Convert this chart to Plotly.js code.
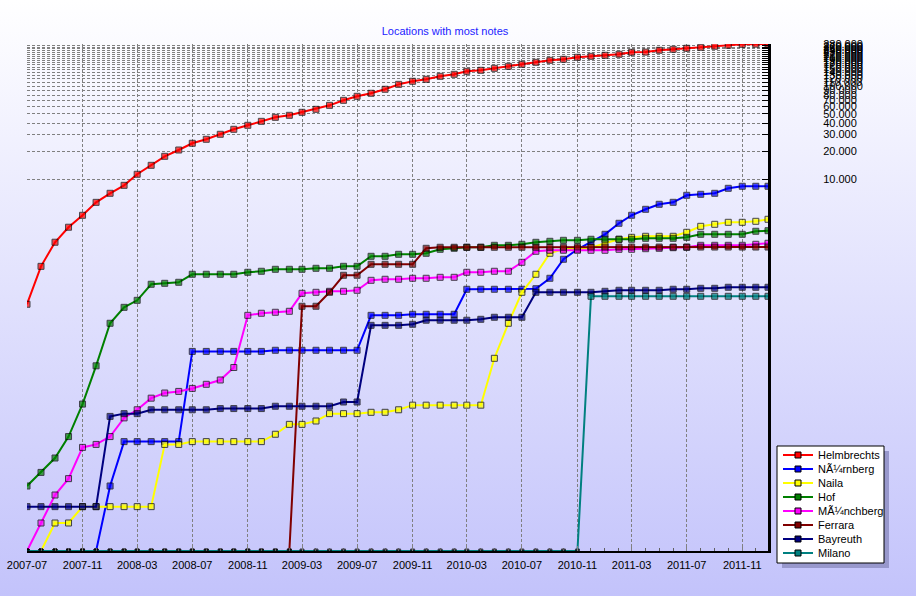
<!DOCTYPE html>
<html>
<head>
<meta charset="utf-8">
<script src="https://cdn.plot.ly/plotly-3.0.1.min.js"></script>
<style>
html,body{margin:0;padding:0;}
#chart{width:916px;height:596px;background:linear-gradient(to bottom,#ffffff 0%,#c3c3fb 100%);}
</style>
</head>
<body>
<div id="chart"></div>
<script>
// ---- data ----
const dates = [
"2007-07-01","2007-08-01","2007-09-01","2007-10-01","2007-11-01","2007-12-01",
"2008-01-01","2008-02-01","2008-03-01","2008-04-01","2008-05-01","2008-06-01",
"2008-07-01","2008-08-01","2008-09-01","2008-10-01","2008-11-01","2008-12-01",
"2009-01-01","2009-02-01","2009-03-01","2009-04-01","2009-05-01","2009-06-01",
"2009-07-01","2009-08-01","2009-09-01","2009-10-01","2009-11-01","2009-12-01",
"2010-01-01","2010-02-01","2010-03-01","2010-04-01","2010-05-01","2010-06-01",
"2010-07-01","2010-08-01","2010-09-01","2010-10-01","2010-11-01","2010-12-01",
"2011-01-01","2011-02-01","2011-03-01","2011-04-01","2011-05-01","2011-06-01",
"2011-07-01","2011-08-01","2011-09-01","2011-10-01","2011-11-01","2011-12-01",
"2011-12-28"];

const seriesNames = ["Helmbrechts","N\u00c3\u00bcrnberg","Naila","Hof","M\u00c3\u00bcnchberg","Ferrara","Bayreuth","Milano"];
const seriesColors = ["#ff0000","#0000ff","#ffff00","#008000","#ff00ff","#800000","#000080","#008080"];

const helmbrechts = [450,1150,2090,3030,4070,5610,7020,8550,11240,14030,
  17540,20500,24210,26730,30250,34230,37780,41700,46050,48400,
  52140,56140,61960,70150,77480,83500,92200,104200,112400,118000,
  127100,133600,143900,147500,154900,162800,171100,179800,189000,193800,
  203600,208600,213900,219300,230400,231500,242200,248300,254500,260900,
  267500,274200,280500,282000,283000];
const nuernberg = [1,1,1,1,1,1,5,15,15,15,
  15,15,140,140,140,140,140,140,144,144,
  144,144,144,144,144,342,342,342,351,351,
  351,351,652,652,652,652,652,661,856,1370,
  1754,2118,2543,3340,4073,4723,5346,5614,6680,6845,
  7018,7943,8350,8350,8350];
const naila = [1,1,2,2,3,3,3,3,3,3,
  14,14,15,15,15,15,15,15,18,23,
  23,25,30,30,30,31,31,33,37,37,
  37,37,37,37,118,281,605,945,1589,1767,
  1781,1825,2036,2248,2361,2421,2421,2421,2673,3099,
  3257,3423,3423,3509,3688];
const hof = [5,7,10,17,38,98,281,417,496,738,
  756,775,945,945,945,945,993,1018,1069,1069,
  1069,1096,1096,1151,1151,1475,1475,1550,1550,1589,
  1754,1798,1844,1844,1937,1937,1986,2086,2138,2192,
  2192,2248,2248,2248,2248,2303,2303,2303,2361,2543,
  2543,2543,2543,2741,2780];
const muenchberg = [1,2,4,6,13,14,17,27,33,44,
  50,52,56,62,69,94,342,360,369,378,
  590,605,620,620,636,814,835,835,856,856,
  877,877,993,993,1018,1018,1271,1670,1712,1712,
  1712,1712,1712,1754,1754,1781,1798,1825,1844,1937,
  1937,1937,1937,1986,2036];
const ferrara = [1,1,1,1,1,1,1,1,1,1,
  1,1,1,1,1,1,1,1,1,1,
  428,428,605,922,922,1210,1210,1210,1210,1798,
  1844,1844,1844,1844,1844,1844,1844,1844,1844,1844,
  1855,1855,1855,1855,1855,1855,1855,1855,1855,1855,
  1855,1855,1855,1855,1855];
const bayreuth = [3,3,3,3,3,3,28,30,30,33,
  33,33,33,33,34,34,34,34,36,36,
  36,36,36,40,40,267,267,267,274,303,
  303,303,303,310,326,326,326,605,605,605,
  605,605,620,636,636,636,636,652,652,668,
  668,685,685,685,685];
const milano = [1,1,1,1,1,1,1,1,1,1,
  1,1,1,1,1,1,1,1,1,1,
  1,1,1,1,1,1,1,1,1,1,
  1,1,1,1,1,1,1,1,1,1,
  1,548,548,548,548,548,548,548,548,548,
  548,548,548,548,548];

const seriesValues = [helmbrechts,nuernberg,naila,hof,muenchberg,ferrara,bayreuth,milano];

const yTickVals = [10000,20000,30000,40000,50000,60000,70000,80000,90000,100000,
  110000,120000,130000,140000,150000,160000,170000,180000,190000,200000,
  210000,220000,230000,240000,250000,260000,270000,280000];
const yTickText = yTickVals.map(v => (v/1000) + ".000");

// ---- layout helpers ----
const W = 916, H = 596;
const mL = 27, mR = 148, mT = 44, mB = 45;
const PW = W - mL - mR, PH = H - mT - mB;
const px = x => (x - mL) / PW;
const py = y => (H - mB - y) / PH;
const FONT = "Liberation Sans, Arial, sans-serif";
const AXIS_MIN_VALUE = 1;

const traces = seriesValues.map((vals, k) => ({
  type: "scatter", mode: "lines+markers",
  name: seriesNames[k], x: dates, y: vals,
  cliponaxis: true,
  line: {color: seriesColors[k], width: 2},
  marker: {
    symbol: "square",
    size: vals.map(v => v <= AXIS_MIN_VALUE ? 4 : 6),
    color: vals.map(v => v <= AXIS_MIN_VALUE ? "#000000" : seriesColors[k]),
    line: {color: "#000000", width: 1}
  },
  showlegend: false
}));

// manual legend (box, shadow, samples, labels)
const shapes = [
  {type:"rect", xref:"paper", yref:"paper", x0:px(782), x1:px(889), y0:py(451), y1:py(568),
   fillcolor:"#9898cc", line:{width:0}, layer:"above"},
  {type:"rect", xref:"paper", yref:"paper", x0:px(777), x1:px(884), y0:py(446), y1:py(563),
   fillcolor:"#ffffff", line:{color:"#000000", width:1}, layer:"above"}
];
const annotations = [];
seriesNames.forEach((nm, k) => {
  const yc = 455 + 14 * k;
  shapes.push({type:"line", xref:"paper", yref:"paper", x0:px(783), x1:px(813), y0:py(yc), y1:py(yc),
    line:{color:seriesColors[k], width:2}, layer:"above"});
  shapes.push({type:"rect", xref:"paper", yref:"paper", x0:px(795), x1:px(801), y0:py(yc+3), y1:py(yc-3),
    fillcolor:seriesColors[k], line:{color:"#000000", width:1}, layer:"above"});
  annotations.push({xref:"paper", yref:"paper", x:px(816), y:py(yc), xanchor:"left", yanchor:"middle",
    text:nm, showarrow:false, font:{family:FONT, size:11, color:"#000000"}});
});

const layout = {
  width: W, height: H,
  margin: {l: mL, r: mR, t: mT, b: mB, pad: 0},
  paper_bgcolor: "rgba(0,0,0,0)",
  plot_bgcolor: "rgba(0,0,0,0)",
  showlegend: false,
  font: {family: FONT, size: 11, color: "#000000"},
  title: {text: "Locations with most notes", font: {family: FONT, size: 11, color: "#2222ff"},
          x: 445 / W, xanchor: "center", y: 1 - 31 / H, yanchor: "middle"},
  xaxis: {
    type: "date", range: [dates[0], dates[dates.length - 1]],
    tick0: "2007-07-01", dtick: "M4", tickformat: "%Y-%m",
    showgrid: true, gridcolor: "#808080", gridwidth: 1, griddash: "3px,2px",
    showline: true, linecolor: "#000000", linewidth: 2,
    ticks: "inside", ticklen: 5, tickcolor: "#808080",
    minor: {tick0: "2007-07-01", dtick: "M1", ticks: "inside", ticklen: 3, tickcolor: "#606060", showgrid: false},
    ticklabelstandoff: 3,
    tickfont: {family: FONT, size: 11, color: "#000000"},
    zeroline: false, fixedrange: true
  },
  yaxis: {
    type: "log", range: [0, 5.4516], side: "right",
    tickvals: yTickVals, ticktext: yTickText,
    showgrid: true, gridcolor: "#808080", gridwidth: 1, griddash: "3px,2px",
    showline: true, linecolor: "#000000", linewidth: 3,
    ticks: "inside", ticklen: 6, tickcolor: "#000000",
    ticklabelstandoff: 50,
    tickfont: {family: FONT, size: 11, color: "#000000"},
    zeroline: false, fixedrange: true
  },
  shapes: shapes,
  annotations: annotations
};

Plotly.newPlot("chart", traces, layout, {displayModeBar: false, staticPlot: true});
</script>
</body>
</html>
